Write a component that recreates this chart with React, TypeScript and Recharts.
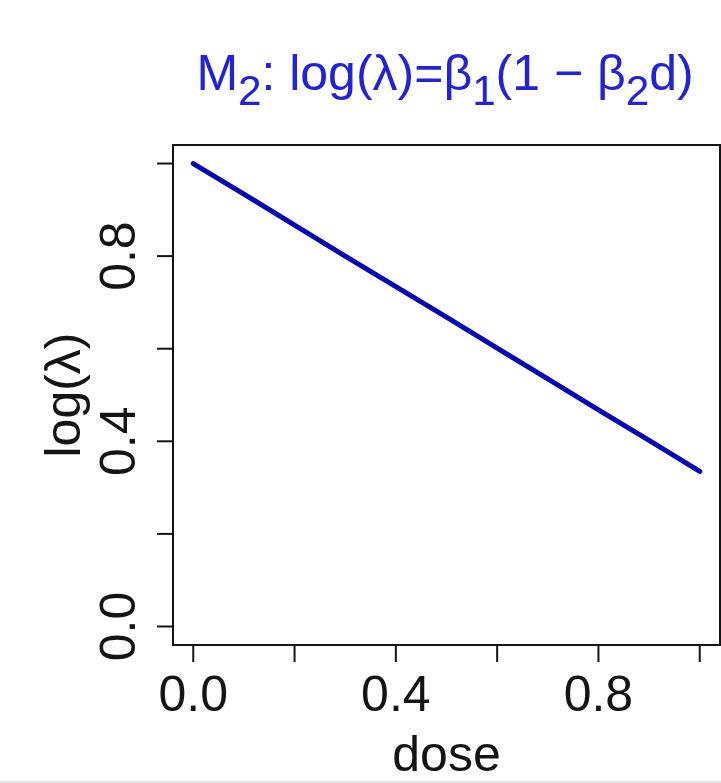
import { Label, Line, LineChart, ReferenceArea, XAxis, YAxis } from 'recharts'

const doses = [0, 0.1, 0.2, 0.3, 0.4, 0.5, 0.6, 0.7, 0.8, 0.9, 1.0]
const logLambda = [1.0, 0.934, 0.867, 0.8, 0.734, 0.668, 0.601, 0.535, 0.468, 0.402, 0.335]
const xTicks = [0, 0.2, 0.4, 0.6, 0.8, 1.0]
const yTicks = [0, 0.2, 0.4, 0.6, 0.8, 1.0]
const labeledTicks = [0, 0.4, 0.8]

const FONT = '"Liberation Sans", Arial, sans-serif'
const INK = '#141414'
const TITLE_BLUE = '#2222d8'
const LINE_BLUE = '#0606b4'

const chartData = doses.map((dose, i) => ({ dose, value: logLambda[i] }))

const isLabeled = (v: number) => labeledTicks.some((t) => Math.abs(t - v) < 1e-9)

function XTick(props: any) {
  const { x, y, payload } = props
  if (!isLabeled(payload.value)) return null
  return (
    <text x={x} y={y} dy={47} textAnchor="middle" fontFamily={FONT} fontSize={50} fill={INK}>
      {Number(payload.value).toFixed(1)}
    </text>
  )
}

function YTick(props: any) {
  const { x, y, payload } = props
  if (!isLabeled(payload.value)) return null
  return (
    <text
      transform={`translate(${x - 20},${y}) rotate(-90)`}
      textAnchor="middle"
      fontFamily={FONT}
      fontSize={50}
      fill={INK}
    >
      {Number(payload.value).toFixed(1)}
    </text>
  )
}

function XTitle(props: any) {
  const vb = props.viewBox
  return (
    <text x={vb.x + vb.width / 2} y={vb.y + 126} textAnchor="middle" fontFamily={FONT} fontSize={50} fill={INK}>
      dose
    </text>
  )
}

function YTitle(props: any) {
  const vb = props.viewBox
  return (
    <text
      transform={`translate(80,${vb.y + vb.height / 2}) rotate(-90)`}
      textAnchor="middle"
      fontFamily={FONT}
      fontSize={50}
      fill={INK}
    >
      log(λ)
    </text>
  )
}

function MainTitle() {
  const sub = { fontSize: 42 }
  return (
    <svg width={721} height={130} style={{ position: 'absolute', left: 0, top: 0 }}>
      <text x={445} y={90} textAnchor="middle" fontFamily={FONT} fontSize={50} fill={TITLE_BLUE}>
        <tspan>M</tspan>
        <tspan {...sub} dy={15}>2</tspan>
        <tspan dy={-15}>: log(λ)=β</tspan>
        <tspan {...sub} dy={15}>1</tspan>
        <tspan dy={-15}>(1 − β</tspan>
        <tspan {...sub} dy={15}>2</tspan>
        <tspan dy={-15}>d)</tspan>
      </text>
    </svg>
  )
}

export default function App() {
  return (
    <div style={{ position: 'absolute', left: 0, top: 0, width: 721, height: 783, background: '#fff' }}>
      <LineChart width={721} height={783} data={chartData} margin={{ top: 145, right: 1, bottom: 0, left: 0 }}>
        <XAxis
          dataKey="dose"
          type="number"
          domain={[-0.04, 1.04]}
          ticks={xTicks}
          height={138}
          tickSize={17}
          tick={<XTick />}
          stroke={INK}
          strokeWidth={2}
          tickLine={{ stroke: INK, strokeWidth: 2 }}
          axisLine={{ stroke: INK, strokeWidth: 2 }}
          interval={0}
        >
          <Label content={<XTitle />} />
        </XAxis>
        <YAxis
          type="number"
          domain={[-0.04, 1.04]}
          ticks={yTicks}
          width={173}
          tickSize={16}
          tick={<YTick />}
          stroke={INK}
          strokeWidth={2}
          tickLine={{ stroke: INK, strokeWidth: 2 }}
          axisLine={{ stroke: INK, strokeWidth: 2 }}
          interval={0}
        >
          <Label content={<YTitle />} />
        </YAxis>
        <ReferenceArea
          x1={-0.04}
          x2={1.04}
          y1={-0.04}
          y2={1.04}
          fill="none"
          fillOpacity={0}
          stroke={INK}
          strokeWidth={2}
          ifOverflow="visible"
        />
        <Line
          type="linear"
          dataKey="value"
          stroke={LINE_BLUE}
          strokeWidth={5}
          strokeLinecap="round"
          strokeLinejoin="round"
          dot={false}
          activeDot={false}
          isAnimationActive={false}
        />
      </LineChart>
      <MainTitle />
      <div style={{ position: 'absolute', left: 0, bottom: 0, width: 721, height: 2, background: '#e4e4e4' }} />
    </div>
  )
}
